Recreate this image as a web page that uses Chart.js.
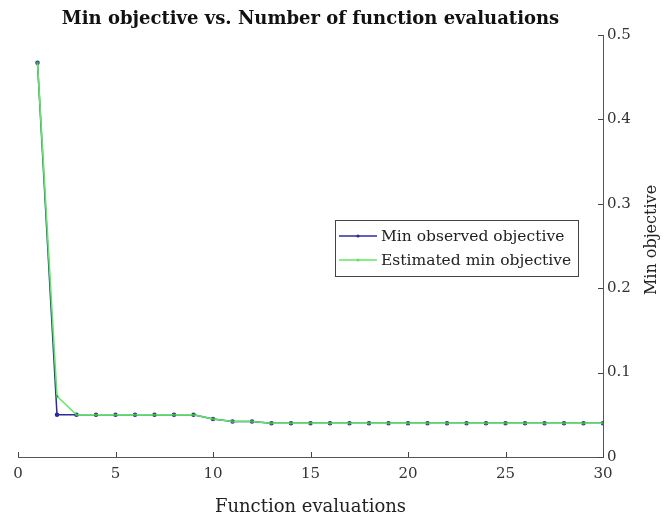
<!DOCTYPE html>
<html>
<head>
<meta charset="utf-8">
<script src="https://cdn.jsdelivr.net/npm/chart.js@4/dist/chart.umd.min.js"></script>
<style>
  html, body { margin: 0; padding: 0; background: #fff; }
  #wrap { width: 665px; height: 524px; }
</style>
</head>
<body>
<div id="wrap"><canvas id="c" width="665" height="524"></canvas></div>
<script>
const evaluations = [1,2,3,4,5,6,7,8,9,10,11,12,13,14,15,16,17,18,19,20,21,22,23,24,25,26,27,28,29,30];
const minObserved = [0.467,0.050,0.050,0.050,0.050,0.050,0.050,0.050,0.050,0.045,0.042,0.042,0.040,0.040,0.040,0.040,0.040,0.040,0.040,0.040,0.040,0.040,0.040,0.040,0.040,0.040,0.040,0.040,0.040,0.040];
const estimatedMin = [0.467,0.072,0.050,0.050,0.050,0.050,0.050,0.050,0.050,0.045,0.042,0.042,0.040,0.040,0.040,0.040,0.040,0.040,0.040,0.040,0.040,0.040,0.040,0.040,0.040,0.040,0.040,0.040,0.040,0.040];
const seriesLabels = ["Min observed objective", "Estimated min objective"];
const xTicks = [0,5,10,15,20,25,30];
const yTicks = [0,0.1,0.2,0.3,0.4,0.5];
const yAxisTitle = "Min objective";

const SERIF = "'DejaVu Serif', 'Liberation Serif', serif";
const BLUE = '#2c2c9c';
const GREEN = '#60e860';

const toXY = (ys) => ys.map((v, i) => ({x: evaluations[i], y: v}));

const inwardTicks = {
  id: 'inwardTicks',
  afterDatasetsDraw(chart) {
    const ctx = chart.ctx, x = chart.scales.x, y = chart.scales.y, a = chart.chartArea;
    ctx.save();
    ctx.strokeStyle = '#444';
    ctx.lineWidth = 1;
    xTicks.forEach(v => {
      const px = Math.round(x.getPixelForValue(v)) + 0.5;
      ctx.beginPath(); ctx.moveTo(px, a.bottom); ctx.lineTo(px, a.bottom - 5); ctx.stroke();
    });
    yTicks.forEach(v => {
      const py = Math.round(y.getPixelForValue(v)) + 0.5;
      ctx.beginPath(); ctx.moveTo(a.right, py); ctx.lineTo(a.right - 5, py); ctx.stroke();
    });
    // y axis title, reading bottom-to-top
    ctx.translate(652, (a.top + a.bottom) / 2 - 6);
    ctx.rotate(-Math.PI / 2);
    ctx.font = "16px " + SERIF;
    ctx.fillStyle = '#222';
    ctx.textAlign = 'center';
    ctx.textBaseline = 'middle';
    ctx.fillText(yAxisTitle, 0, 0);
    ctx.restore();
  }
};

const boxLegend = {
  id: 'boxLegend',
  afterDraw(chart) {
    const ctx = chart.ctx;
    const left = 335, top = 220, w = 243, h = 56;
    ctx.save();
    ctx.fillStyle = '#fff';
    ctx.fillRect(left, top, w, h);
    ctx.strokeStyle = '#444';
    ctx.lineWidth = 1;
    ctx.strokeRect(left + 0.5, top + 0.5, w, h);
    ctx.font = "15.5px " + SERIF;
    ctx.textBaseline = 'middle';
    const dsList = [chart.data.datasets[0], chart.data.datasets[1]];
    dsList.forEach((ds, i) => {
      const cy = top + 16 + i * 24;
      ctx.strokeStyle = ds.borderColor;
      ctx.lineWidth = 1.5;
      ctx.beginPath(); ctx.moveTo(left + 4, cy); ctx.lineTo(left + 42, cy); ctx.stroke();
      ctx.fillStyle = ds.borderColor;
      ctx.beginPath(); ctx.arc(left + 23, cy, 1.6, 0, Math.PI * 2); ctx.fill();
      ctx.fillStyle = '#222';
      ctx.fillText(ds.label, left + 46, cy + 1);
    });
    ctx.restore();
  }
};

new Chart(document.getElementById('c'), {
  type: 'line',
  data: {
    datasets: [
      { label: seriesLabels[0], data: toXY(minObserved), borderColor: BLUE, backgroundColor: BLUE, order: 1,
        borderWidth: 1.5, pointRadius: 1.5, pointHoverRadius: 1.5, tension: 0, fill: false },
      { label: seriesLabels[1], data: toXY(estimatedMin), borderColor: GREEN, backgroundColor: '#3fae3f', order: 0,
        borderWidth: 1.6, pointRadius: 1.4, pointHoverRadius: 1.4, pointBorderWidth: 0, tension: 0, fill: false }
    ]
  },
  options: {
    responsive: false,
    animation: false,
    devicePixelRatio: 1,
    layout: { padding: { left: 18, right: 0, top: 0, bottom: 0 } },
    plugins: {
      legend: { display: false },
      tooltip: { enabled: false },
      title: {
        display: true,
        fullSize: false,
        text: 'Min objective vs. Number of function evaluations',
        color: '#111',
        font: { family: SERIF, size: 18, weight: 'bold', lineHeight: 1.2 },
        padding: { top: 9, bottom: 4.4 }
      }
    },
    scales: {
      x: {
        type: 'linear', min: 0, max: 30,
        afterBuildTicks: (s) => { s.ticks = xTicks.map(v => ({value: v})); },
        afterFit: (s) => { s.height = 67; },
        grid: { display: true, drawOnChartArea: false, drawTicks: false },
        border: { display: true, color: '#555', width: 1 },
        ticks: { color: '#333', font: { family: SERIF, size: 15 }, padding: 8, maxRotation: 0 },
        title: { display: true, text: 'Function evaluations', color: '#222',
                 font: { family: SERIF, size: 18, lineHeight: 1.2 }, padding: { top: 0, bottom: 6 } }
      },
      y: {
        type: 'linear', position: 'right', min: 0, max: 0.5,
        afterBuildTicks: (s) => { s.ticks = yTicks.map(v => ({value: v})); },
        afterFit: (s) => { s.width = 62; },
        grid: { display: true, drawOnChartArea: false, drawTicks: false },
        border: { display: true, color: '#555', width: 1 },
        ticks: { color: '#333', font: { family: SERIF, size: 15 }, padding: 4,
                 callback: (v) => String(v) },
        title: { display: false }
      }
    }
  },
  plugins: [inwardTicks, boxLegend]
});
</script>
</body>
</html>
